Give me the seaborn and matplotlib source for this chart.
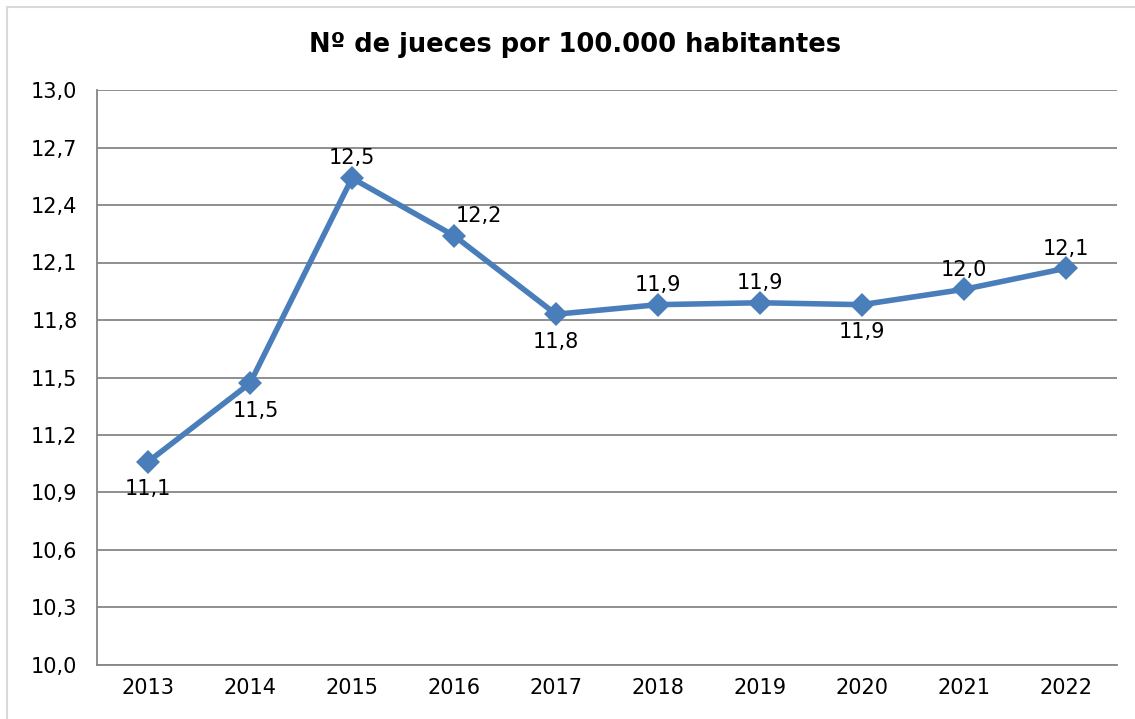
import matplotlib
matplotlib.use("Agg")
import matplotlib.pyplot as plt
import seaborn as sns
import pandas as pd
from matplotlib.patches import Rectangle

years = ["2013", "2014", "2015", "2016", "2017", "2018", "2019", "2020", "2021", "2022"]
values = [11.06, 11.47, 12.54, 12.24, 11.83, 11.88, 11.89, 11.88, 11.96, 12.07]
labels = ["11,1", "11,5", "12,5", "12,2", "11,8", "11,9", "11,9", "11,9", "12,0", "12,1"]
yticks = [10.0, 10.3, 10.6, 10.9, 11.2, 11.5, 11.8, 12.1, 12.4, 12.7, 13.0]
title = "Nº de jueces por 100.000 habitantes"

# label offsets in points (style only)
offsets = [(0, -27), (4, -27), (0, 7), (18, 7), (0, -27), (0, 7), (0, 7), (0, -27), (0, 7), (0, 7)]

sns.set_style("white")
plt.rcParams["font.family"] = ["DejaVu Sans"]
plt.rcParams["text.color"] = "black"
plt.rcParams["xtick.color"] = "black"
plt.rcParams["ytick.color"] = "black"

df = pd.DataFrame({"year": years, "value": values})
fig = plt.figure(figsize=(11.35, 7.19), dpi=100)
ax = fig.add_axes([97/1135, 1 - 665/719, (1117 - 97)/1135, (665 - 90)/719])

line_color = "#4a7ebb"
sns.lineplot(data=df, x="year", y="value", ax=ax, color=line_color, linewidth=4,
             marker="D", markersize=12, markeredgewidth=0, sort=False)

for i, (y, lab) in enumerate(zip(values, labels)):
    ax.annotate(lab, (i, y), xytext=offsets[i], textcoords="offset points",
                ha="center", va="bottom", fontsize=15, color="black")

ax.set_xlim(-0.5, len(years) - 0.5)
ax.set_ylim(10.0, 13.0)
ax.set_yticks(yticks)
ax.set_yticklabels([f"{t:.1f}".replace(".", ",") for t in yticks], fontsize=15)
ax.tick_params(axis="x", labelsize=15, pad=9, length=0)
ax.tick_params(axis="y", pad=14, length=0)
ax.set_xlabel("")
ax.set_ylabel("")
ax.grid(axis="y", color="#868686", linewidth=1.3)
ax.set_axisbelow(True)
for s in ["top", "right"]:
    ax.spines[s].set_visible(False)
for s in ["left", "bottom"]:
    ax.spines[s].set_color("#868686")
    ax.spines[s].set_linewidth(1.3)

fig.text(575/1135, 1 - 45/719, title, ha="center", va="center", fontsize=18.5,
         fontweight="bold", color="black")

fig.patches.append(Rectangle((7/1135, -0.01), 1.2, 1 - 7/719 + 0.01, transform=fig.transFigure,
                             fill=False, edgecolor="#d9d9d9", linewidth=1.5, zorder=-1))

fig.savefig("out.png", dpi=100)
